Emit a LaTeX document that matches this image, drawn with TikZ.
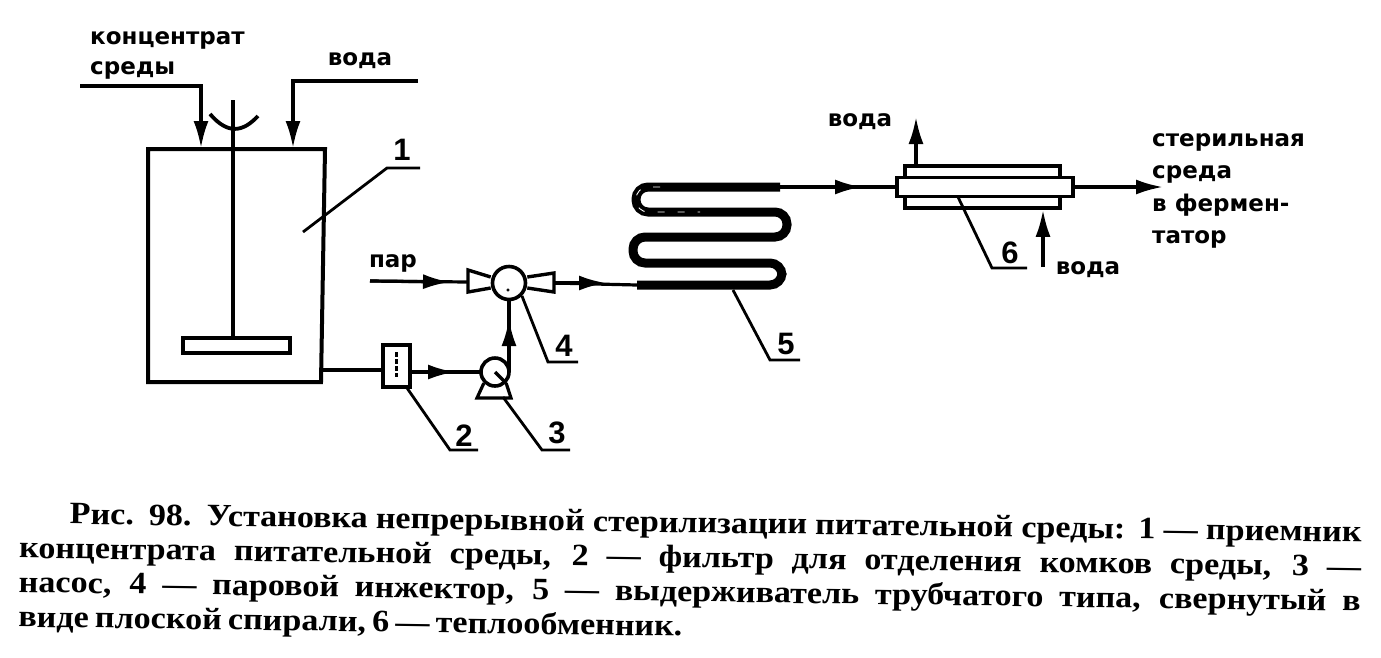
\documentclass[tikz,border=0pt]{standalone}
\usepackage{fontspec}
\setmainfont{Liberation Serif}
\newfontfamily\labelfont{DejaVu Sans}
\newfontfamily\numfont{Liberation Sans}
\newfontfamily\capfont[FakeStretch=1.1]{Liberation Serif}
\usetikzlibrary{arrows.meta}
\tikzset{
    pipe/.style={line width=3.2pt},
    leader/.style={line width=2.8pt},
    wall/.style={draw, line width=3.6pt, inner sep=0pt},
    tip/.style={-{Latex[length=27pt,width=15pt]}},
    lbl/.style={font=\labelfont\bfseries\fontsize{23}{32.5}\selectfont, align=left, inner sep=0pt},
    num/.style={font=\numfont\bfseries\fontsize{31}{32}\selectfont, inner sep=0pt}
}
\begin{document}
\begin{tikzpicture}[x=1pt,y=-1pt]
    \useasboundingbox (0,0) rectangle (1381,657);

    % tank 1
    \draw[line width=4pt] (148,149) -- (325,149) -- (321,382) -- (148,382) -- cycle;
    \node[wall, minimum width=107pt, minimum height=15pt] (paddle) at (236.5,345.5) {};
    \coordinate (shafttop) at (233,100);
    \draw[pipe] (shafttop) -- (paddle.north -| shafttop);
    \coordinate (cupl) at (210,114);
    \coordinate (cupr) at (258,116);
    \draw[line width=3.8pt] (cupl) .. controls (228,135) and (243,132) .. (cupr);

    % inlets
    \node[lbl, anchor=west] (conc) at (90,40) {концентрат};
    \node[lbl, anchor=west] (sreda) at (90,70) {среды};
    \node[lbl] (voda1) at (360,61) {вода};
    \coordinate (concin) at (80,86);
    \coordinate (concbend) at (201,86);
    \coordinate (conctip) at (201,148);
    \coordinate (vodain) at (418,81);
    \coordinate (vodabend) at (293,81);
    \coordinate (vodatip) at (293,148);
    \draw[pipe, tip] (concin) -- (concbend) -- (conctip);
    \draw[pipe, tip] (vodain) -- (vodabend) -- (vodatip);

    % filter 2, pump 3, injector 4
    \node[wall, minimum width=27pt, minimum height=42pt] (filter) at (396.5,366) {};
    \draw[line width=2.4pt, dash pattern=on 5pt off 2pt] (filter.north) ++(0,9) -- ++(0,25);
    \node[wall, circle, minimum size=28pt] (pump) at (495,372) {};
    \coordinate (basel) at (477,398);
    \coordinate (baser) at (511,398);
    \draw[pipe] (pump.south west) -- (basel) -- (baser) -- (pump.south east);
    \draw[pipe] (pump.center) -- (pump.south east);
    \node[wall, circle, minimum size=33pt] (inj) at (509,283) {};
    \node[draw, fill, circle, inner sep=1pt] (injdot) at (508,290) {};
    \draw[line width=3.4pt] ([yshift=6pt]inj.west) -- (468,270) -- (468,292) -- ([yshift=-5pt]inj.west);
    \draw[line width=3.4pt] ([yshift=6pt]inj.east) -- (554,273) -- (554,292) -- ([yshift=-5pt]inj.east);
    \coordinate (tankout) at (322,370);
    \coordinate (pumpin) at (481,372);
    \coordinate (pumpup) at (509,372);
    \coordinate (injleft) at (468,282);
    \coordinate (injright) at (554,283);
    \coordinate (parin) at (370,281);
    \draw[pipe] (tankout) -- (tankout -| filter.west);
    \draw[pipe] (filter.east |- pumpin) -- (pumpin);
    \draw[pipe, tip] (filter.east |- pumpin) -- (455,372);
    \draw[pipe] (pumpup) -- (inj.south);
    \draw[pipe, tip] (pumpup) -- (509,319);
    \draw[pipe] (parin) -- (injleft);
    \draw[pipe, tip] (parin) -- (450,282);
    \node[lbl] (par) at (393,263) {пар};

    % coil 5
    \coordinate (coilin) at (637,285);
    \coordinate (coilout) at (780,187);
    \draw[pipe] (injright) -- (coilin);
    \draw[pipe, tip] (injright) -- (606,283);
    \draw[line width=9pt, rounded corners=12pt] (coilin) -- (782,285) -- (782,263) -- (633,263) -- (633,237) -- (787,237) -- (787,212) -- (636,212) -- (636,187) -- (coilout);
    \draw[white, line width=0.9pt, dash pattern=on 7pt off 13pt, rounded corners=12pt] (660,187) -- (636,187) -- (636,212) -- (700,212);

    % heat exchanger 6
    \node[wall, minimum width=155pt, minimum height=42pt] (shell) at (982.5,187) {};
    \node[wall, fill=white, minimum width=176pt, minimum height=19pt] (hx) at (985,187) {};
    \coordinate (hxin) at (hx.west);
    \draw[pipe] (coilout) -- (hxin);
    \draw[pipe, tip] (coilout) -- (862,187);
    \draw[pipe, tip] (hx.east) -- (1163,187);
    \coordinate (vup) at (916,117);
    \coordinate (vdown) at (1043,267);
    \draw[pipe, tip] (vup |- shell.north) -- (vup);
    \draw[pipe, tip] (vdown) -- (vdown |- shell.south);
    \node[lbl] (voda2) at (860,122) {вода};
    \node[lbl] (voda3) at (1088,270) {вода};
    \node[lbl, anchor=north west] (prod) at (1152,133) {стерильная\\среда\\в фермен-\\татор};

    % leaders with numbers
    \node[num] (n1) at (402,150) {1};
    \node[num] (n2) at (464,436) {2};
    \node[num] (n3) at (557,433) {3};
    \node[num] (n4) at (564,346) {4};
    \node[num] (n5) at (786,344) {5};
    \node[num] (n6) at (1010,253) {6};
    \draw[leader] (303,232) -- (387,168) -- (420,168);
    \draw[leader] (407,388) -- (450,450) -- (478,450);
    \draw[leader] (503,397) -- (542,450) -- (570,450);
    \draw[leader] (inj.south east) -- (548,362) -- (578,362);
    \draw[leader] (733,290) -- (770,360) -- (800,360);
    \draw[leader] (958,197) -- (992,268) -- (1027,268);

    % caption
    \node[rotate=-0.8, inner sep=0pt, text width=1342pt, align=justify,
          font=\capfont\bfseries\fontsize{31}{34.5}\selectfont] (caption) at (690,577)
        {\spaceskip=0.2em plus 0.4em minus 0.05em
        \hspace*{50pt}Рис. 98. Установка непрерывной стерилизации питательной среды: 1 — приемник\linebreak
        концентрата питательной среды, 2 — фильтр для отделения комков среды, 3 —\linebreak
        насос, 4 — паровой инжектор, 5 — выдерживатель трубчатого типа, свернутый в\linebreak
        виде плоской спирали, 6 — теплообменник.};
\end{tikzpicture}
\end{document}
